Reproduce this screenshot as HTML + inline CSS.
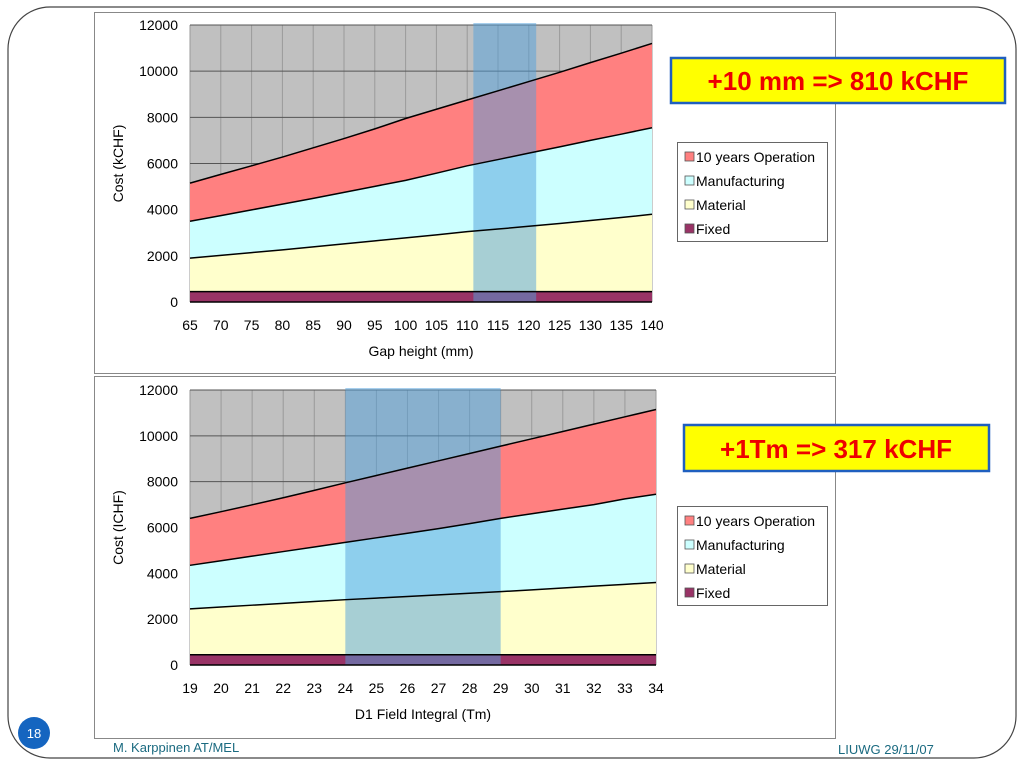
<!DOCTYPE html>
<html><head><meta charset="utf-8"><style>
html,body{margin:0;padding:0;background:#fff;}
svg{display:block;font-family:"Liberation Sans",Arial,sans-serif;}
</style></head><body>
<svg id="s" width="1024" height="768" viewBox="0 0 1024 768" xmlns="http://www.w3.org/2000/svg">
<rect x="8" y="7" width="1008" height="751" rx="42" ry="42" fill="#fff" stroke="#444" stroke-width="1.2"/>
<rect x="94.5" y="12.5" width="741" height="361" fill="#fff" stroke="#888"/>
<rect x="94.5" y="376.5" width="741" height="362" fill="#fff" stroke="#888"/>
<g id="c1"></g>
<g id="c2"></g>
<rect x="671" y="58" width="334" height="45" fill="#ffff00" stroke="#1f5fbf" stroke-width="2.5"/>
<text x="838" y="90" text-anchor="middle" font-size="26" font-weight="bold" fill="#ee0000">+10 mm =&gt; 810 kCHF</text>
<rect x="684" y="425" width="305" height="46" fill="#ffff00" stroke="#1f5fbf" stroke-width="2.5"/>
<text x="836" y="458" text-anchor="middle" font-size="26" font-weight="bold" fill="#ee0000">+1Tm =&gt; 317 kCHF</text>
<circle cx="34" cy="733" r="16" fill="#1565c0"/>
<text x="34" y="738" text-anchor="middle" font-size="13" fill="#fff">18</text>
<text x="113" y="752" font-size="13" fill="#1a6a80">M. Karppinen AT/MEL</text>
<text x="838" y="754" font-size="13" fill="#1a6a80">LIUWG 29/11/07</text>
</svg>
<script>
// Top chart data (gap height)
const gapCats = [65,70,75,80,85,90,95,100,105,110,115,120,125,130,135,140];
const gapFixed = [450,450,450,450,450,450,450,450,450,450,450,450,450,450,450,450];
const gapMaterial = [1450,1570,1690,1810,1940,2070,2200,2330,2460,2600,2710,2830,2950,3080,3210,3350];
const gapManufacturing = [1600,1720,1850,1980,2100,2230,2360,2490,2670,2850,3010,3170,3320,3470,3610,3750];
const gapOperation = [1650,1790,1910,2040,2190,2330,2490,2680,2770,2850,2980,3100,3230,3370,3510,3650];
const gapHighlight = [111, 121.2];
// Bottom chart data (D1 field integral)
const fieldCats = [19,20,21,22,23,24,25,26,27,28,29,30,31,32,33,34];
const fieldFixed = [450,450,450,450,450,450,450,450,450,450,450,450,450,450,450,450];
const fieldMaterial = [2000,2080,2160,2240,2320,2400,2470,2540,2610,2680,2750,2830,2910,2990,3070,3150];
const fieldManufacturing = [1900,2020,2140,2260,2380,2500,2630,2760,2890,3040,3200,3320,3440,3560,3730,3850];
const fieldOperation = [2050,2140,2240,2350,2470,2600,2720,2840,2960,3060,3150,3270,3390,3510,3580,3700];
const fieldHighlight = [24, 29];
const yTicks = [0,2000,4000,6000,8000,10000,12000];

const NS="http://www.w3.org/2000/svg";
function mk(parent,tag,attrs){const e=document.createElementNS(NS,tag);for(const k in attrs)e.setAttribute(k,attrs[k]);parent.appendChild(e);return e;}

function drawChart(g,cfg){
  const x=v=>cfg.x0+(v-cfg.cats[0])/(cfg.cats[cfg.cats.length-1]-cfg.cats[0])*(cfg.x1-cfg.x0);
  const y=v=>cfg.y0-v/12000*(cfg.y0-cfg.y1);
  const bg=mk(g,'rect',{x:cfg.x0,y:cfg.y1,width:cfg.x1-cfg.x0,height:cfg.y0-cfg.y1,fill:'#c0c0c0'});
  
  
  cfg.cats.forEach(c=>{
    const l=mk(g,'line',{x1:x(c),x2:x(c),y1:cfg.y1,y2:cfg.y0,stroke:'#9a9a9a','stroke-width':1});
    
    
  });
  yTicks.forEach(t=>{
    const l=mk(g,'line',{x1:cfg.x0,x2:cfg.x1,y1:y(t),y2:y(t),stroke:'#555','stroke-width':1});
    
    
    const tx=mk(g,'text',{x:cfg.x0-12,y:y(t)+5,'text-anchor':'end','font-size':14,fill:'#000'});
    tx.textContent=t;
    
    
  });
  const series=[cfg.fixed,cfg.material,cfg.manuf,cfg.oper];
  const colors=['#993366','#ffffcc','#ccffff','#ff8080'];
  const names=['fixed-area','material-area','manufacturing-area','operation-area'];
  let base=cfg.cats.map(()=>0);
  const tops=[];
  series.forEach((s,i)=>{
    const top=base.map((b,j)=>b+s[j]);
    let d='M'+cfg.cats.map((c,j)=>x(c)+','+y(top[j])).join(' L');
    for(let j=cfg.cats.length-1;j>=0;j--) d+=' L'+x(cfg.cats[j])+','+y(base[j]);
    d+=' Z';
    const p=mk(g,'path',{d:d,fill:colors[i],stroke:'none'});
    
    
    tops.push(top);
    base=top;
  });
  const hl=mk(g,'rect',{x:x(cfg.hl[0]),y:cfg.y1-2,width:x(cfg.hl[1])-x(cfg.hl[0]),height:cfg.y0-cfg.y1+2,fill:'rgb(80,160,220)','fill-opacity':0.5});
  
  
  tops.forEach((top,i)=>{
    const ln=mk(g,'polyline',{points:cfg.cats.map((c,j)=>x(c)+','+y(top[j])).join(' '),fill:'none',stroke:'#000','stroke-width':1.5});
    
    
  });
  const b=mk(g,'line',{x1:cfg.x0,x2:cfg.x1,y1:cfg.y0,y2:cfg.y0,stroke:'#000','stroke-width':1.5});
  
  
  cfg.cats.forEach(c=>{
    const tx=mk(g,'text',{x:x(c),y:cfg.y0+28,'text-anchor':'middle','font-size':14,fill:'#000'});
    tx.textContent=c;
    
    
  });
  const xt=mk(g,'text',{x:(cfg.x0+cfg.x1)/2,y:cfg.y0+54,'text-anchor':'middle','font-size':14,fill:'#000'});
  xt.textContent=cfg.xTitle;
  
  
  const ym=(cfg.y0+cfg.y1)/2;
  const yt=mk(g,'text',{x:123,y:ym,'text-anchor':'middle','font-size':14,fill:'#000',transform:'rotate(-90 123 '+ym+')'});
  yt.textContent=cfg.yTitle;
  
  
  const lg=mk(g,'g',{});
  
  
  mk(lg,'rect',{x:677.5,y:cfg.legY+0.5,width:150,height:99,fill:'#fff',stroke:'#666'});
  const labels=['10 years Operation','Manufacturing','Material','Fixed'];
  const lc=['#ff8080','#ccffff','#ffffcc','#993366'];
  labels.forEach((t,i)=>{
    const yy=cfg.legY+15+i*24;
    const sw=mk(lg,'rect',{x:685,y:yy-5,width:9,height:9,fill:lc[i],stroke:'#555','stroke-width':0.8});
    
    
    const tx=mk(lg,'text',{x:696,y:yy+5,'font-size':14,fill:'#000'});
    tx.textContent=t;
    
    
  });
}
drawChart(document.getElementById('c1'),{cats:gapCats,fixed:gapFixed,material:gapMaterial,manuf:gapManufacturing,oper:gapOperation,hl:gapHighlight,x0:190,x1:652,y0:302,y1:25,xTitle:'Gap height (mm)',yTitle:'Cost (kCHF)',legY:142});
drawChart(document.getElementById('c2'),{cats:fieldCats,fixed:fieldFixed,material:fieldMaterial,manuf:fieldManufacturing,oper:fieldOperation,hl:fieldHighlight,x0:190,x1:656,y0:665,y1:390,xTitle:'D1 Field Integral (Tm)',yTitle:'Cost (ICHF)',legY:506});
</script>
</body></html>
